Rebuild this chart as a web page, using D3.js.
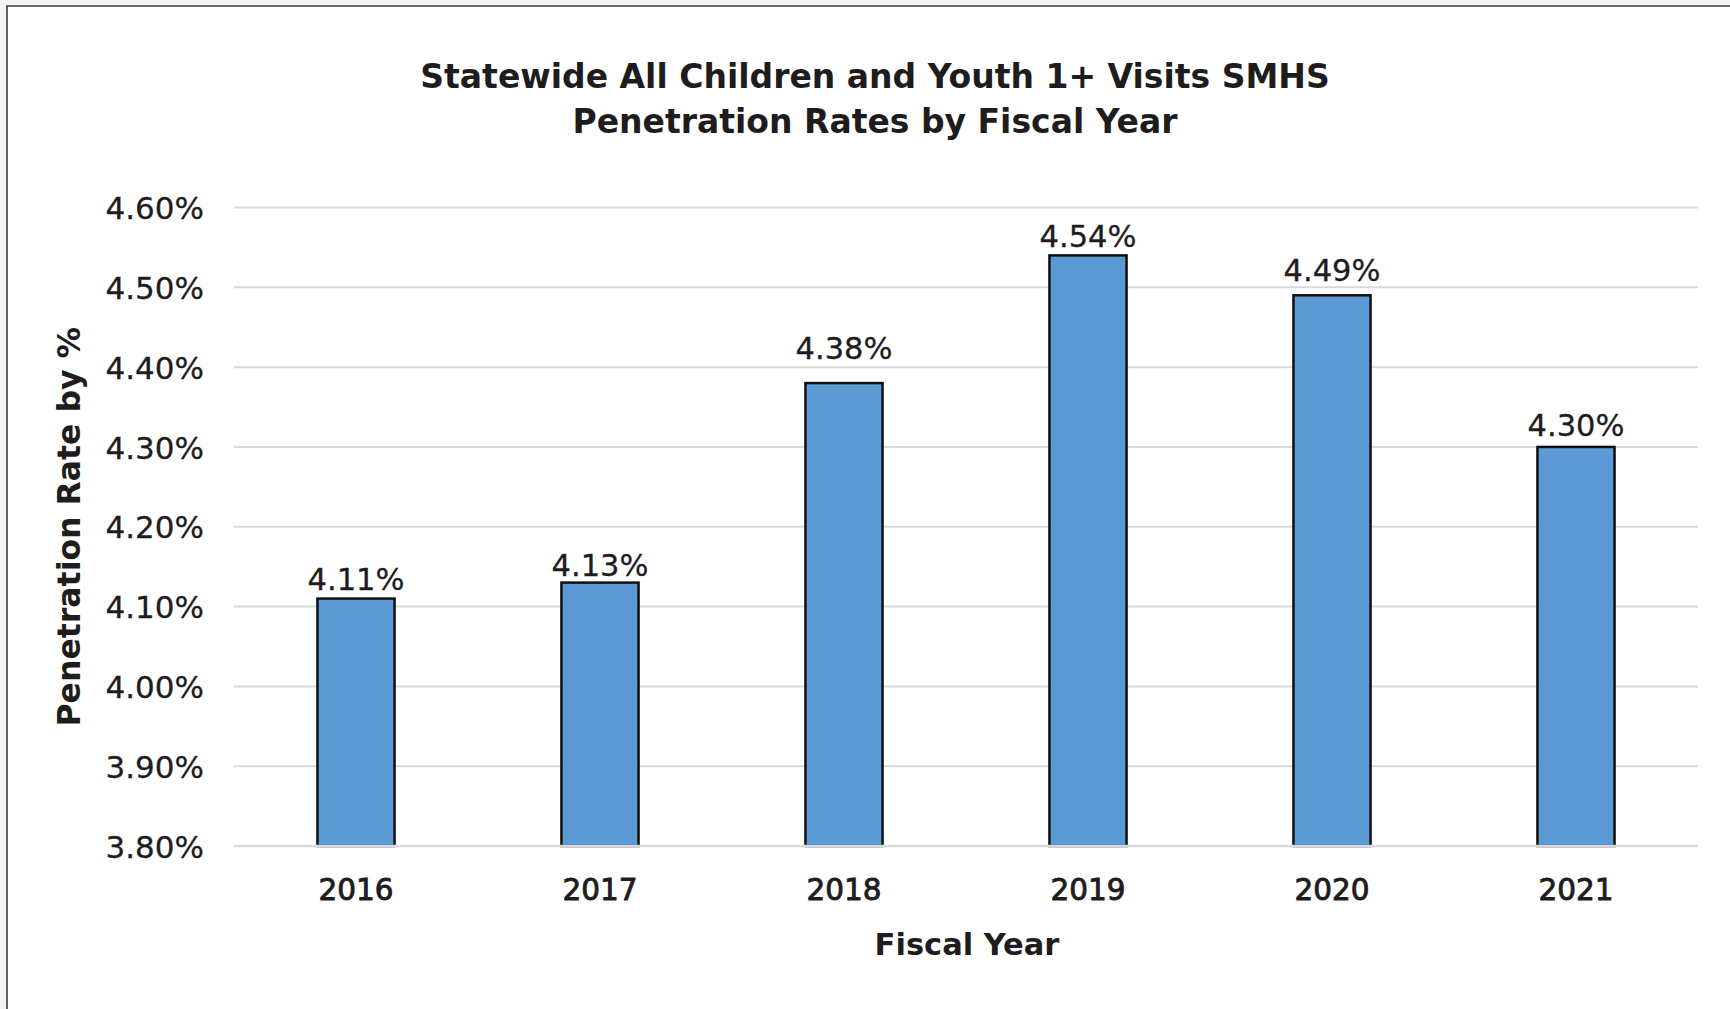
<!DOCTYPE html>
<html>
<head>
<meta charset="utf-8">
<script src="https://cdn.jsdelivr.net/npm/d3@7"></script>
<style>
  html, body { margin: 0; padding: 0; background: #f4f4f4; }
  svg { display: block; }
  text { font-family: "DejaVu Sans", sans-serif; fill: #1e1c1d; }
</style>
</head>
<body>
<svg id="chart" width="1730" height="1009"></svg>
<script>
// Penetration rates (%) by fiscal year
const years = ["2016", "2017", "2018", "2019", "2020", "2021"];
const rates = [4.11, 4.13, 4.38, 4.54, 4.49, 4.30];
const yTicks = [3.80, 3.90, 4.00, 4.10, 4.20, 4.30, 4.40, 4.50, 4.60];
const titleLines = [
  "Statewide All Children and Youth 1+ Visits SMHS",
  "Penetration Rates by Fiscal Year"
];
const xTitle = "Fiscal Year";
const yTitle = "Penetration Rate by %";

// Space (px) between each value label's baseline and its bar top
const labelGap = [9, 7, 24, 8, 14, 11];

const fmt = v => v.toFixed(2) + "%";

const svg = d3.select("#chart");
const W = 1730, H = 1009;
const plot = { left: 234, right: 1698, top: 207.5, bottom: 846 };

// Card background with top/left border
svg.append("rect")
  .attr("x", 7).attr("y", 6).attr("width", W).attr("height", H)
  .attr("fill", "#ffffff");
svg.append("path")
  .attr("d", `M7,${H} L7,6 L${W},6`)
  .attr("fill", "none").attr("stroke", "#3a3a3a").attr("stroke-width", 1.6);

const x = d3.scaleBand()
  .domain(years)
  .range([plot.left, plot.right])
  .paddingInner(0.684)
  .paddingOuter(0.342);

const y = d3.scaleLinear()
  .domain([3.8, 4.6])
  .range([plot.bottom, plot.top]);

// Title
svg.append("g").selectAll("text")
  .data(titleLines)
  .join("text")
  .attr("x", 875)
  .attr("y", (d, i) => 88 + i * 45)
  .attr("text-anchor", "middle")
  .attr("font-size", 33)
  .attr("font-weight", "bold")
  .text(d => d);

// Horizontal gridlines
const grid = svg.append("g");
grid.selectAll("line")
  .data(yTicks)
  .join("line")
  .attr("x1", plot.left).attr("x2", plot.right)
  .attr("y1", d => y(d)).attr("y2", d => y(d))
  .attr("stroke", "#d9d9d9").attr("stroke-width", 2);

// Y axis labels
const yAxis = svg.append("g")
  .attr("transform", `translate(${plot.left},0)`)
  .call(d3.axisLeft(y).tickValues(yTicks).tickFormat(fmt).tickSize(0).tickPadding(30));
yAxis.select(".domain").remove();
yAxis.selectAll("text")
  .attr("font-size", 31)
  .attr("font-family", "DejaVu Sans, sans-serif")
  .attr("fill", "#1e1c1d")
  .attr("stroke", "#1e1c1d").attr("stroke-width", 0.3)
  .attr("dy", "0.36em");

// Bars
svg.append("g").selectAll("rect")
  .data(rates)
  .join("rect")
  .attr("x", (d, i) => x(years[i]))
  .attr("y", d => y(d))
  .attr("width", x.bandwidth())
  .attr("height", d => y(3.8) - y(d))
  .attr("fill", "#5b9bd5")
  .attr("stroke", "#111")
  .attr("stroke-width", 2.5);

// Baseline over bar bottoms
svg.append("line")
  .attr("x1", plot.left).attr("x2", plot.right)
  .attr("y1", y(3.8)).attr("y2", y(3.8))
  .attr("stroke", "#d9d9d9").attr("stroke-width", 2.5);

// Value labels
svg.append("g").selectAll("text")
  .data(rates)
  .join("text")
  .attr("x", (d, i) => x(years[i]) + x.bandwidth() / 2)
  .attr("y", (d, i) => y(d) - labelGap[i])
  .attr("text-anchor", "middle")
  .attr("font-size", 30.5)
  .attr("stroke", "#1e1c1d").attr("stroke-width", 0.3)
  .text(d => fmt(d));

// X axis labels
const xAxis = svg.append("g")
  .attr("transform", `translate(0,${plot.bottom})`)
  .call(d3.axisBottom(x).tickSize(0).tickPadding(0));
xAxis.select(".domain").remove();
xAxis.selectAll("text")
  .attr("font-size", 29.5)
  .attr("font-family", "DejaVu Sans, sans-serif")
  .attr("fill", "#1e1c1d")
  .attr("stroke", "#1e1c1d").attr("stroke-width", 0.9)
  .attr("y", 54).attr("dy", 0);

// Axis titles
svg.append("text")
  .attr("x", 967).attr("y", 955)
  .attr("text-anchor", "middle")
  .attr("font-size", 30.5)
  .attr("font-weight", "bold")
  .text(xTitle);

svg.append("text")
  .attr("transform", `translate(80,${(plot.top + plot.bottom) / 2}) rotate(-90)`)
  .attr("text-anchor", "middle")
  .attr("font-size", 31.5)
  .attr("font-weight", "bold")
  .text(yTitle);
</script>
</body>
</html>
